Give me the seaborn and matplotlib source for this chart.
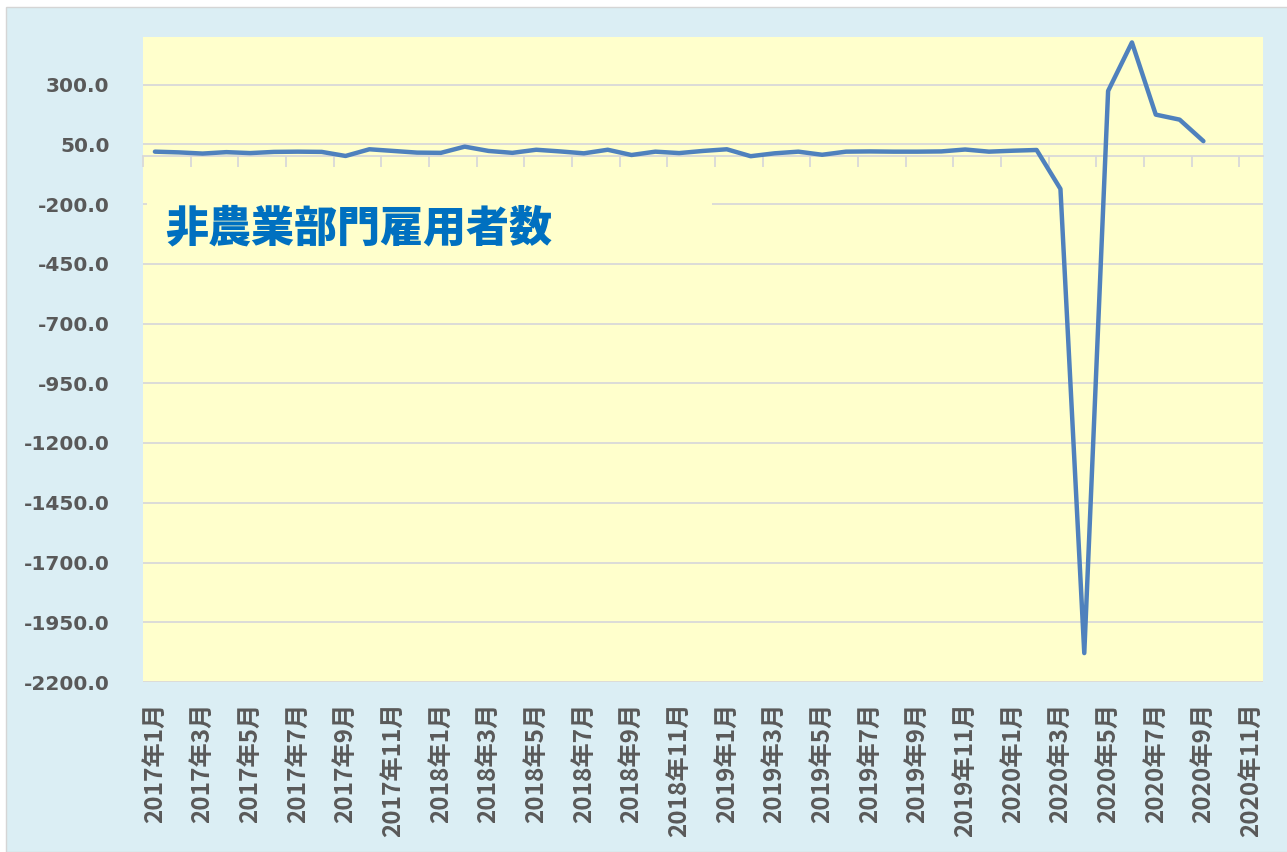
import numpy as np
import pandas as pd
import matplotlib
matplotlib.use("Agg")
import matplotlib.pyplot as plt
import seaborn as sns
from matplotlib.patches import Rectangle

# 月ラベル（2017年1月〜2020年11月）
years = [2017, 2018, 2019, 2020]
months = [f"{y}年{m}月" for y in years for m in range(1, 13)][:47]

# 非農業部門雇用者数の前月差（万人）
vals_2017 = [19, 16, 11, 17, 13, 18, 19, 18, 1, 29, 22, 15]
vals_2018 = [14, 40, 22, 14, 27, 20, 12, 27, 5, 19, 13, 22]
vals_2019 = [29, 0, 12, 19, 6, 19, 20, 19, 19, 20, 28, 19]
vals_2020 = [23, 26, -137, -2079, 273, 476, 174, 153, 63]
values = vals_2017 + vals_2018 + vals_2019 + vals_2020

title = "非農業部門雇用者数"
yticks = np.arange(-2200, 501, 250)

df = pd.DataFrame({"idx": range(len(values)), "val": values})

sns.set_theme(style="white")
jp = "Noto Sans CJK JP"

fig = plt.figure(figsize=(12.87, 8.52), dpi=100, facecolor="white")
fig.patches.append(Rectangle((6 / 1287, 0), 1, 845 / 852, transform=fig.transFigure,
                             facecolor="#DBEEF4", edgecolor="#D5D5D5", lw=1, zorder=-1))

ax = fig.add_axes([143 / 1287, 1 - 682 / 852, 1120 / 1287, 645.3 / 852])
ax.set_facecolor("#FFFFCC")

sns.lineplot(data=df, x="idx", y="val", ax=ax, color="#4F81BD", linewidth=3.2,
             zorder=4, solid_joinstyle="round", solid_capstyle="round")

ax.set_xlim(-0.5, len(months) - 0.5)
ax.set_ylim(-2200, 500)
ax.set_yticks(yticks)
ax.set_yticklabels([f"{v:.1f}" for v in yticks], fontweight="bold", color="#595959",
                   fontsize=14.5, family="DejaVu Sans")
ax.tick_params(axis="y", length=0, pad=24)

ax.set_xticks(range(0, len(months), 2))
ax.set_xticklabels(months[::2], rotation=90, fontweight="bold", color="#595959",
                   fontsize=17.5, family=jp)
ax.tick_params(axis="x", length=0, pad=15)
ax.set_xlabel("")
ax.set_ylabel("")

ax.grid(axis="y", color="#D9D9D9", lw=1.3)
ax.grid(axis="x", visible=False)
ax.set_axisbelow(True)
for s in ax.spines.values():
    s.set_visible(False)

# 0 の位置の横軸と目盛
sec = ax.secondary_xaxis(0, transform=ax.transData)
sec.set_xticks(np.arange(-0.5, len(months) - 1, 2))
sec.tick_params(axis="x", length=8, width=1.3, color="#D9D9D9", labelbottom=False)
sec.spines["bottom"].set_color("#D9D9D9")
sec.spines["bottom"].set_linewidth(1.3)
sec.set_zorder(1)

# タイトル（背景付きテキストボックス）
ax.add_patch(Rectangle((4 / 1120, 0.662), 565 / 1120, 0.108, transform=ax.transAxes,
                       facecolor="#FFFFCC", edgecolor="none", zorder=2))
ax.text(22 / 1120, 0.703, title, transform=ax.transAxes, fontsize=31, fontweight="heavy",
        color="#0070C0", family=jp, ha="left", va="center", zorder=3)

fig.savefig("out.png", dpi=100, facecolor=fig.get_facecolor())
